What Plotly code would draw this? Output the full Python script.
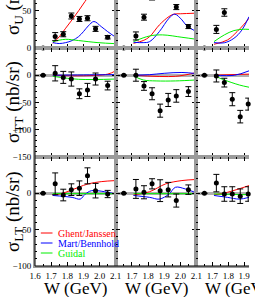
import plotly.graph_objects as go
from plotly.subplots import make_subplots

# ---------------- data ----------------
W8 = [1.65, 1.725, 1.775, 1.825, 1.875, 1.925, 1.975, 2.05]
W6 = [1.65, 1.725, 1.775, 1.825, 1.875, 1.925]

# sigma_U data points, one list per column
U_W = [W8, [1.65, 1.725, 1.775, 1.825, 1.975, 2.05], [1.65, 1.725, 1.775]]
U_Y = [[0, 15.3, 18.5, 43, 39, 40, 25.7, 14.5], [0, 16.2, 41.4, 70, 55, 28.8], [0, 25, 47.7]]
U_E = [[0, 5.4, 3.4, 4, 3.4, 3.4, 3.4, 2.3], [0, 5.4, 4, 5.5, 3.4, 2.7], [0, 5.4, 5]]

# sigma_TT data points
TT_W = [W8, W8, W6]
TT_Y = [[0, 3.5, -4, -7, -34, -27, -7, -19], [0, 0, -19.7, -34, -65, -45.4, -38, -30],
        [0, -1.4, -13.6, -44, -76, -53]]
TT_E = [[0, 14, 11, 13, 9, 12, 11, 8], [0, 11, 8, 11, 12, 12, 11.5, 9], [0, 11, 8, 12, 11.5, 11]]

# sigma_LT data points
LT_W = [W8, W8, W6]
LT_Y = [[0, 13, -2.4, 5, 7, 24, 3.6, -1], [0, 6, 1.4, 13, 3.6, 5, -10, 5], [0, 14, -1, -1, -4, -1]]
LT_E = [[0, 15, 8, 8, 10, 11, 10, 5], [0, 13, 9, 7, 15, 10, 9, 6.5], [0, 12, 10, 10, 10, 10]]

# model curves: Ghent/Janssen (GJ), Mart/Bennhold (MB), Guidal (GU)
U_GJ_W = [[1.71, 1.75, 1.79, 1.83, 1.87, 1.91, 1.95], [1.71, 1.77, 1.81, 1.87, 1.93, 1.96, 2.0, 2.1],
          [1.71, 1.795, 1.855, 1.895, 1.93]]
U_GJ_Y = [[6.3, 15, 26.6, 38, 50, 62.6, 75], [6.3, 10, 15.3, 31, 42.3, 45.5, 46, 46.8], [5, 10.8, 22, 31, 40]]
U_MB_W = [[1.71, 1.75, 1.79, 1.83, 1.87, 1.9, 1.93, 1.965, 2.01, 2.05, 2.1],
          [1.71, 1.77, 1.81, 1.87, 1.93, 1.965, 2.01, 2.04, 2.1], [1.71, 1.775, 1.835, 1.885, 1.93]]
U_MB_Y = [[7.2, 6, 7.2, 10, 15.3, 22, 29.7, 35.6, 28.8, 22, 14.4],
          [7.7, 7.2, 8.6, 22, 40, 45.5, 37.8, 29.7, 22], [7.2, 7, 13, 24, 42]]
U_GU_W = [[1.71, 1.75, 1.79, 1.87, 1.99, 2.1], [1.71, 1.81, 1.89, 2.01, 2.1], [1.71, 1.775, 1.835, 1.895, 1.93]]
U_GU_Y = [[8.6, 10.5, 11.7, 10, 7.2, 5.8], [8.6, 16.2, 17.6, 14.4, 11.7], [8.6, 17.6, 23.4, 25.2, 25]]

TT_GJ_W = [[1.71, 1.9, 2.05, 2.1], [1.71, 1.97, 2.1], [1.71, 1.93]]
TT_GJ_Y = [[0, -1, 2, 8], [0, -2, 5], [0, 2]]
TT_MB_W = [[1.71, 1.9, 2.1], [1.71, 1.81, 1.9, 2.01, 2.1], [1.71, 1.84, 1.93]]
TT_MB_Y = [[0, 0.5, 1], [0, 1, 3.5, 5, 3], [0, 0, 8]]
TT_GU_W = [[1.71, 1.87, 2.1], [1.71, 1.77, 1.85, 1.97, 2.1], [1.71, 1.775, 1.87, 1.93]]
TT_GU_Y = [[-2, -7.5, -7], [-1.2, -8.7, -10.5, -10.5, -8.7], [-1, -8.7, -18, -22]]

LT_GJ_W = [[1.71, 1.79, 1.87, 1.93, 2.01, 2.1], [1.71, 1.81, 1.91, 2.01, 2.1], [1.71, 1.795, 1.93]]
LT_GJ_Y = [[-3, 1.4, 8.3, 13, 16, 17.5], [-2.4, 2.2, 13, 17.5, 19], [-2.4, 1.4, 10.6]]
LT_MB_W = [[1.71, 1.83, 1.88, 1.91, 1.95, 2.03, 2.1], [1.71, 1.81, 1.87, 1.93, 1.97, 2.03, 2.1],
           [1.71, 1.795, 1.87, 1.93]]
LT_MB_Y = [[-3, -5.6, -8, -1.4, 3.6, 2.2, -1], [-3, -5.6, -8, -1, 8.3, 6, 0.5], [-3, -5.6, -8, -5.6]]
LT_GU_W = [[1.71, 2.1], [1.71, 2.1], [1.71, 1.93]]
LT_GU_Y = [[-0.5, -0.5], [-0.5, -0.5], [-1, -2]]

X_TICKS = [[1.6, 1.7, 1.8, 1.9, 2.0, 2.1], [1.7, 1.8, 1.9, 2.0, 2.1], [1.7, 1.8, 1.9]]
X_LABELS = [["1.6", "1.7", "1.8", "1.9", "2.0", "2.1"], ["1.7", "1.8", "1.9", "2.0", "2.1"],
            ["1.7", "1.8", "1.9"]]
MODEL_NAMES = ["Ghent/Janssen", "Mart/Bennhold", "Guidal"]
ROW_TITLES = ["σ<sub>U</sub> (nb/sr)", "σ<sub>TT</sub> (nb/sr)", "σ<sub>LT</sub> (nb/sr)"]

# ---------------- styling ----------------
RED, BLUE, GREEN = "#ff0000", "#0000ff", "#00ee00"
MODEL_COLORS = [RED, BLUE, GREEN]
FONT = "Liberation Serif"
GRAY = "#9a9a9a"

W_PX, H_PX = 255, 297
ML, MB = 35, 31
PW, PH = W_PX - ML, H_PX - MB

fig = make_subplots(rows=3, cols=3, column_widths=[83, 83, 54], row_heights=[48, 109, 109],
                    horizontal_spacing=0, vertical_spacing=0)

rows = [
    (U_W, U_Y, U_E, [U_GJ_W, U_MB_W, U_GU_W], [U_GJ_Y, U_MB_Y, U_GU_Y]),
    (TT_W, TT_Y, TT_E, [TT_GJ_W, TT_MB_W, TT_GU_W], [TT_GJ_Y, TT_MB_Y, TT_GU_Y]),
    (LT_W, LT_Y, LT_E, [LT_GJ_W, LT_MB_W, LT_GU_W], [LT_GJ_Y, LT_MB_Y, LT_GU_Y]),
]

for r, (dw, dy, de, mw, my) in enumerate(rows):
    for c in range(3):
        for m in range(3):
            fig.add_trace(go.Scatter(x=mw[m][c], y=my[m][c], mode="lines",
                                     line=dict(color=MODEL_COLORS[m], width=1, shape="spline"),
                                     showlegend=False, hoverinfo="skip"),
                          row=r + 1, col=c + 1)
        fig.add_trace(go.Scatter(x=dw[c], y=dy[c], mode="markers",
                                 marker=dict(color="black", size=5),
                                 error_y=dict(type="data", array=de[c], color="black",
                                              thickness=1, width=3),
                                 cliponaxis=False, showlegend=False),
                      row=r + 1, col=c + 1)

y_ranges = [[0, 64.5], [-150, 49.9], [-100, 49.9]]
x_ranges = [[1.6, 2.1], [1.6, 2.1], [1.6, 1.93]]

for r in range(3):
    for c in range(3):
        fig.update_xaxes(row=r + 1, col=c + 1, range=x_ranges[c],
                         showline=True, linecolor=GRAY, linewidth=2,
                         mirror=("ticks" if r > 0 else False),
                         ticks="inside", ticklen=4, tickcolor="black", tickwidth=1,
                         tickmode="array", tickvals=X_TICKS[c], ticktext=X_LABELS[c],
                         showticklabels=(r == 2), showgrid=False, zeroline=False,
                         tickfont=dict(family=FONT, size=9, color="black"),
                         minor=dict(dtick=0.05, tick0=1.6, ticklen=2, ticks="inside",
                                    tickcolor="black", showgrid=False))
        fig.update_yaxes(row=r + 1, col=c + 1, range=y_ranges[r],
                         showline=True, linecolor=GRAY, linewidth=2,
                         mirror=("ticks" if c < 2 else False),
                         ticks="inside", ticklen=4, tickcolor="black", tickwidth=1,
                         dtick=50, tick0=0, showticklabels=(c == 0), showgrid=False,
                         zeroline=(r > 0), zerolinecolor="#b0b0b0", zerolinewidth=3,
                         tickfont=dict(family=FONT, size=9, color="black"),
                         minor=dict(dtick=10, tick0=0, ticklen=2, ticks="inside",
                                    tickcolor="black", showgrid=False))

def px_x(x):
    return (x - ML) / PW

def px_y(y):
    return (PH - y) / PH

shapes = []
# inner horizontal boundaries: dark band below the gray axis lines
for yb in (48, 157):
    shapes.append(dict(type="line", xref="paper", yref="paper", x0=px_x(33), x1=1,
                       y0=px_y(yb), y1=px_y(yb), line=dict(color="#333333", width=4), layer="below"))
# inner vertical boundaries
for xb in (118, 201):
    shapes.append(dict(type="line", xref="paper", yref="paper", x0=px_x(xb), x1=px_x(xb),
                       y0=0, y1=1, line=dict(color=GRAY, width=3), layer="below"))
# outer black frame (left and bottom)
shapes.append(dict(type="line", xref="paper", yref="paper", x0=0, x1=0, y0=0, y1=1,
                   line=dict(color="black", width=1), layer="above"))
shapes.append(dict(type="line", xref="paper", yref="paper", x0=0, x1=1, y0=0, y1=0,
                   line=dict(color="black", width=1), layer="above"))

annotations = []
# legend in the bottom-left panel
for i, (name, col) in enumerate(zip(MODEL_NAMES, MODEL_COLORS)):
    yy = 233 + 10 * i
    shapes.append(dict(type="line", xref="paper", yref="paper", x0=px_x(41), x1=px_x(53),
                       y0=px_y(yy), y1=px_y(yy), line=dict(color=col, width=1)))
    annotations.append(dict(text=name, xref="paper", yref="paper", x=px_x(57), y=px_y(yy),
                            xanchor="left", yanchor="middle", showarrow=False,
                            font=dict(family=FONT, size=10, color=col)))

# x titles under each column
for xc in (76.5, 159.5, 242.5):
    annotations.append(dict(text="W (GeV)", xref="paper", yref="paper", x=px_x(xc), y=px_y(288),
                            xanchor="center", yanchor="middle", showarrow=False,
                            font=dict(family=FONT, size=17, color="black")))

# y titles
annotations.append(dict(text=ROW_TITLES[0], xref="paper", yref="paper", x=px_x(13), y=px_y(37),
                        xanchor="center", yanchor="bottom", textangle=-90, showarrow=False,
                        font=dict(family=FONT, size=19, color="black")))
for txt, yc in ((ROW_TITLES[1], 102.5), (ROW_TITLES[2], 211.5)):
    annotations.append(dict(text=txt, xref="paper", yref="paper", x=px_x(13), y=px_y(yc),
                            xanchor="center", yanchor="middle", textangle=-90, showarrow=False,
                            font=dict(family=FONT, size=19, color="black")))

fig.update_layout(width=W_PX, height=H_PX, margin=dict(l=ML, r=0, t=0, b=MB, pad=0),
                  paper_bgcolor="white", plot_bgcolor="rgba(0,0,0,0)",
                  shapes=shapes, annotations=annotations, showlegend=False,
                  font=dict(family=FONT, color="black"))

fig.write_html("out.html", config={"displayModeBar": False},
               post_script="document.body.style.margin='0';document.body.style.overflow='hidden';")
